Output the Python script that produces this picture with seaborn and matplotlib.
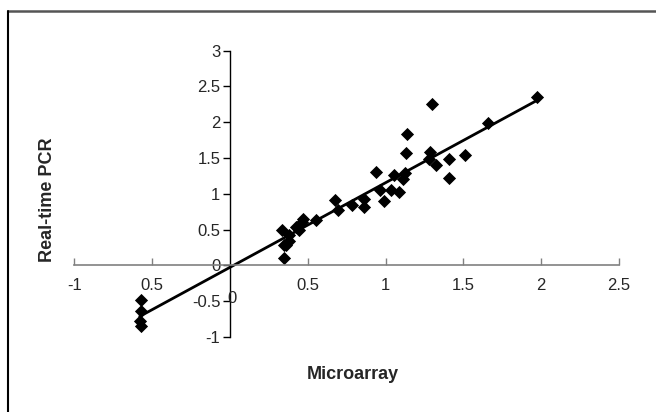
import seaborn as sns
import matplotlib.pyplot as plt
import pandas as pd
from matplotlib.lines import Line2D

microarray = [-0.57, -0.57, -0.58, -0.57,
              0.335, 0.346, 0.346, 0.376, 0.38, 0.36, 0.424, 0.443, 0.461, 0.472,
              0.555, 0.673, 0.697, 0.783, 0.858, 0.858, 0.936, 0.966, 0.992,
              1.035, 1.052, 1.084, 1.11, 1.124, 1.13, 1.135, 1.28, 1.287, 1.298,
              1.325, 1.41, 1.41, 1.513, 1.658, 1.974]
pcr = [-0.48, -0.63, -0.78, -0.84,
       0.50, 0.29, 0.10, 0.43, 0.34, 0.28, 0.54, 0.50, 0.61, 0.645,
       0.63, 0.91, 0.78, 0.84, 0.93, 0.81, 1.30, 1.05, 0.90,
       1.05, 1.26, 1.02, 1.21, 1.285, 1.57, 1.83, 1.48, 1.59, 2.25,
       1.40, 1.49, 1.22, 1.54, 1.99, 2.35]

x_ticks = [-1, -0.5, 0.5, 1, 1.5, 2, 2.5]
x_tick_labels = ["-1", "0.5", "0.5", "1", "1.5", "2", "2.5"]
y_ticks = [-1, -0.5, 0, 0.5, 1, 1.5, 2, 2.5, 3]
y_tick_labels = ["-1", "-0.5", "0", "0.5", "1", "1.5", "2", "2.5", "3"]

df = pd.DataFrame({"Microarray": microarray, "PCR": pcr})

sns.set_style("white")
plt.rcParams["font.family"] = ["Liberation Sans", "DejaVu Sans"]

fig = plt.figure(figsize=(6.56, 4.12), dpi=100)
ax = fig.add_axes([0.1134, 0.182, 0.9436 - 0.1134, 0.877 - 0.182])

sns.regplot(
    x="Microarray", y="PCR", data=df, ci=None, ax=ax,
    marker="D",
    scatter_kws={"s": 45, "color": "black", "alpha": 1, "linewidths": 0},
    line_kws={"color": "black", "linewidth": 2},
)

ax.set_xlim(-1, 2.5)
ax.set_ylim(-1, 3)

for s in ["top", "right"]:
    ax.spines[s].set_visible(False)
ax.spines["left"].set_position(("data", 0))
ax.spines["bottom"].set_position(("data", 0))
ax.spines["left"].set_color("black")
ax.spines["bottom"].set_color("#808080")
ax.spines["left"].set_linewidth(1)
ax.spines["bottom"].set_linewidth(1.2)

ax.set_xticks(x_ticks)
ax.set_xticklabels(x_tick_labels)
ax.set_yticks(y_ticks)
ax.set_yticklabels(y_tick_labels)
ax.tick_params(axis="x", direction="in", length=5, width=1, color="#808080",
               labelsize=12, bottom=True)
ax.tick_params(axis="y", direction="out", length=5, width=1, color="black",
               labelsize=12, pad=2, left=True)
# tick marks hang below the x axis
for t in ax.xaxis.get_major_ticks():
    t.tick1line.set_marker(3)
ax.tick_params(axis="x", pad=9)

ax.text(0.01, -0.46, "0", fontsize=12, ha="center", va="center")

ax.set_xlabel("")
ax.set_ylabel("")
fig.text(0.538, 0.09, "Microarray", fontsize=13, fontweight="bold",
         ha="center", va="center")
fig.text(0.073, 0.515, "Real-time PCR", fontsize=13, fontweight="bold",
         ha="center", va="center", rotation=90)

# frame lines around the chart area
fig.add_artist(Line2D([8 / 656, 1], [1 - 11 / 412, 1 - 11 / 412],
                      color="#555555", linewidth=1.8))
fig.add_artist(Line2D([8 / 656, 8 / 656], [0, 1 - 11 / 412],
                      color="black", linewidth=1.5))

fig.savefig("out.png", dpi=100, facecolor="white")
